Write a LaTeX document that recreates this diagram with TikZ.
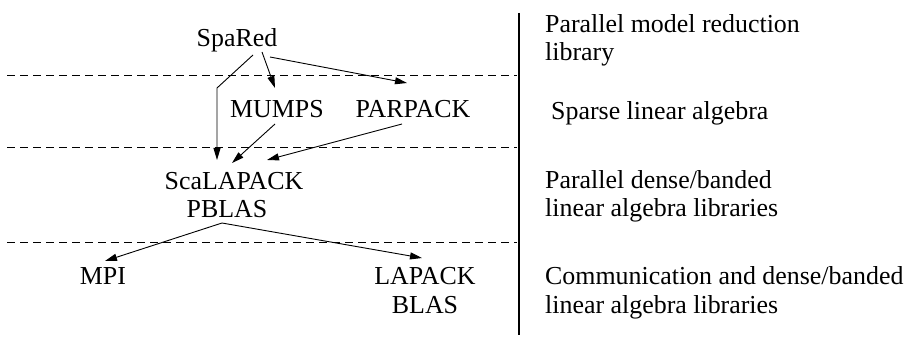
\documentclass[tikz,border=0pt]{standalone}
\usepackage{fontspec}
\setmainfont{Liberation Serif}
\usetikzlibrary{arrows.meta}
\newcommand{\libfont}{\fontsize{25.9}{28.5}\selectfont}

\begin{document}
\begin{tikzpicture}[
      x=1pt,y=-1pt,
      lib/.style={font=\libfont,inner sep=0pt,anchor=base},
      layer/.style={font=\libfont,inner sep=0pt,anchor=base west,align=left},
      sep/.style={dash pattern=on 8pt off 5pt,line width=0.8pt},
      arr/.style={-{Triangle[length=12pt,width=7pt]},line width=0.9pt}
    ]
    \useasboundingbox (0,0) rectangle (911,339);
    % layer separators
    \foreach \y in {75,147,242}
      \draw[sep] (7,\y) -- (517,\y);
    \draw[line width=1.4pt] (519,13) -- (519,335);
    % libraries
    \node[lib] (spared) at (237,47) {SpaRed};
    \node[lib] (mumps) at (277,118) {MUMPS};
    \node[lib] (parpack) at (413,118) {PARPACK};
    \node[lib] (scalapack) at (234,190) {ScaLAPACK};
    \node[lib] (pblas) at (227,218) {PBLAS};
    \node[lib] (mpi) at (103,285) {MPI};
    \node[lib] (lapack) at (425,285) {LAPACK};
    \node[lib] (blas) at (425,313) {BLAS};
    % layer descriptions (base = last line)
    \node[layer] (reduction) at (545,61) {Parallel model reduction\\library};
    \node[layer] (sparse) at (551,120) {Sparse linear algebra};
    \node[layer] (dense) at (545,217) {Parallel dense/banded\\linear algebra libraries};
    \node[layer] (comm) at (545,313) {Communication and dense/banded\\linear algebra libraries};
    % dependencies
    \draw[arr] ([shift={(16,8)}]spared.base) -- ++(-36,33) -- ([shift={(-17,-30)}]scalapack.base);
    \draw[arr] ([shift={(25,5)}]spared.base) -- ([shift={(-2,-30)}]mumps.base);
    \draw[arr] ([shift={(33,10)}]spared.base) -- ([shift={(-6,-35)}]parpack.base);
    \draw[arr] ([shift={(-2,6)}]mumps.base) -- ([shift={(-2,-27)}]scalapack.base);
    \draw[arr] ([shift={(-11,6)}]parpack.base) -- ([shift={(33,-30)}]scalapack.base);
    \draw[arr] ([shift={(-5,5)}]pblas.base) -- ([shift={(2,-24)}]mpi.base);
    \draw[arr] ([shift={(-5,5)}]pblas.base) -- ([shift={(-3,-27)}]lapack.base);
  \end{tikzpicture}
\end{document}
